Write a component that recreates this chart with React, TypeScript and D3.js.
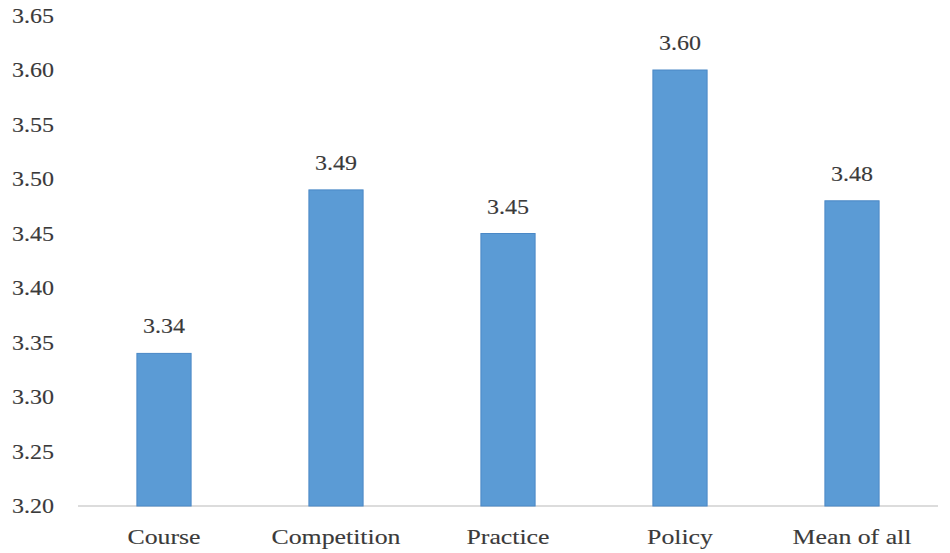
import React from "react";
import * as d3 from "d3";

const categories = ["Course", "Competition", "Practice", "Policy", "Mean of all"];
const values = [3.34, 3.49, 3.45, 3.6, 3.48];
const yTicks = [3.2, 3.25, 3.3, 3.35, 3.4, 3.45, 3.5, 3.55, 3.6, 3.65];

const W = 950, H = 553;
const margin = { left: 78, right: 12, top: 15.5, bottom: 47 };
const SX = 1.2;

export default function App() {
  const x = d3.scaleBand<string>().domain(categories)
    .range([margin.left, W - margin.right]).paddingInner(0.685).paddingOuter(0.3425);
  const y = d3.scaleLinear().domain([3.2, 3.65]).range([H - margin.bottom, margin.top]);
  const font = "Liberation Serif, DejaVu Serif, serif";
  const T = (px: number, py: number, s: string, anchor: string, fs: number, key?: any) => (
    <text key={key} transform={`translate(${px},${py}) scale(${SX},1)`} textAnchor={anchor}
      style={{ fontFamily: font, fontSize: fs }} fill="#3a3a3a" stroke="#3a3a3a" strokeWidth={0.12}>{s}</text>
  );
  return (
    <svg width={W} height={H} style={{ position: "absolute", left: 0, top: 0, background: "#fff" }}>
      {yTicks.map((t, i) => T(54, y(t) + 7, t.toFixed(2), "end", 20, "t" + i))}
      <line x1={margin.left} x2={W - margin.right} y1={y(3.2)} y2={y(3.2)} stroke="#d0d0d0" strokeWidth={1.5} />
      {categories.map((c, i) => (
        <g key={c}>
          <rect x={x(c)} y={y(values[i])} width={x.bandwidth()} height={y(3.2) - y(values[i])}
            fill="#5B9BD5" stroke="#4a88c6" strokeWidth={1} />
          {T(x(c)! + x.bandwidth() / 2, y(values[i]) - 20, values[i].toFixed(2), "middle", 20)}
          {T(x(c)! + x.bandwidth() / 2, y(3.2) + 38, c, "middle", 21.5)}
        </g>
      ))}
    </svg>
  );
}
